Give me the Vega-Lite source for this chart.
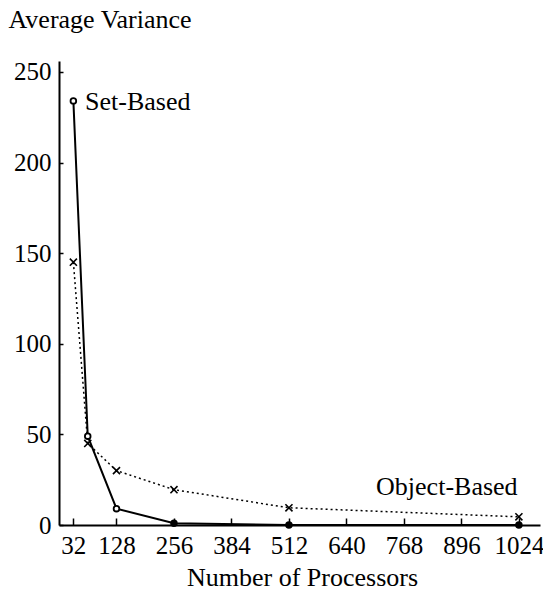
{
  "$schema": "https://vega.github.io/schema/vega-lite/v6.json",
  "autosize": "none",
  "width": 481,
  "height": 464,
  "padding": {"left": 59, "top": 61, "right": 3, "bottom": 66},
  "background": "white",
  "datasets": {
    "series": [
      {"p": 32, "v": 234, "s": "Set-Based"},
      {"p": 64, "v": 49, "s": "Set-Based"},
      {"p": 128, "v": 9, "s": "Set-Based"},
      {"p": 256, "v": 1, "s": "Set-Based"},
      {"p": 512, "v": 0, "s": "Set-Based"},
      {"p": 1024, "v": 0, "s": "Set-Based"},
      {"p": 32, "v": 145, "s": "Object-Based"},
      {"p": 64, "v": 45, "s": "Object-Based"},
      {"p": 128, "v": 30, "s": "Object-Based"},
      {"p": 256, "v": 19.5, "s": "Object-Based"},
      {"p": 512, "v": 9.5, "s": "Object-Based"},
      {"p": 1024, "v": 4.5, "s": "Object-Based"}
    ],
    "labels": [
      {"p": 58, "v": 229, "label": "Set-Based"},
      {"p": 706, "v": 16.5, "label": "Object-Based"}
    ]
  },
  "config": {
    "view": {"stroke": null},
    "font": "Liberation Serif",
    "axis": {
      "grid": false,
      "domainColor": "black",
      "domainWidth": 2,
      "tickColor": "black",
      "tickWidth": 1.5,
      "labelColor": "black",
      "labelFont": "Liberation Serif",
      "labelFontSize": 25,
      "titleFont": "Liberation Serif",
      "titleFontSize": 26,
      "titleFontWeight": "normal",
      "titleColor": "black"
    }
  },
  "encoding": {
    "x": {
      "field": "p",
      "type": "quantitative",
      "scale": {"domain": [0, 1071], "nice": false, "zero": false},
      "axis": {
        "values": [32, 128, 256, 384, 512, 640, 768, 896, 1024],
        "format": "d",
        "title": "Number of Processors",
        "tickSize": -7,
        "labelPadding": 15,
        "labelFlush": false,
        "labelOverlap": false,
        "titleX": 243,
        "titleY": 60,
        "titleBaseline": "alphabetic",
        "titleAnchor": "middle"
      }
    },
    "y": {
      "field": "v",
      "type": "quantitative",
      "scale": {"domain": [0, 256], "nice": false},
      "axis": {
        "values": [0, 50, 100, 150, 200, 250],
        "format": "d",
        "title": "Average Variance",
        "titleAngle": 0,
        "titleAlign": "left",
        "titleBaseline": "alphabetic",
        "titleX": -51,
        "titleY": -34,
        "tickSize": -4,
        "labelPadding": 12,
        "labelFlush": false,
        "labelOverlap": false
      }
    }
  },
  "layer": [
    {
      "data": {"name": "series"},
      "transform": [{"filter": "datum.s === 'Object-Based'"}],
      "mark": {"type": "line", "color": "black", "strokeWidth": 1.5, "strokeDash": [2, 3]}
    },
    {
      "data": {"name": "series"},
      "transform": [{"filter": "datum.s === 'Object-Based'"}],
      "mark": {"type": "point", "shape": "M-1,-1L1,1M-1,1L1,-1", "filled": false, "stroke": "black", "strokeWidth": 1.6, "size": 50, "opacity": 1}
    },
    {
      "data": {"name": "series"},
      "transform": [{"filter": "datum.s === 'Set-Based'"}],
      "mark": {"type": "line", "color": "black", "strokeWidth": 2}
    },
    {
      "data": {"name": "series"},
      "transform": [{"filter": "datum.s === 'Set-Based'"}],
      "mark": {"type": "point", "shape": "circle", "filled": true, "stroke": "black", "strokeWidth": 1.8, "size": 32, "opacity": 1},
      "encoding": {
        "fill": {"condition": {"test": "datum.p >= 256", "value": "black"}, "value": "white"}
      }
    },
    {
      "data": {"name": "labels"},
      "mark": {"type": "text", "font": "Liberation Serif", "fontSize": 26, "color": "black", "align": "left", "baseline": "alphabetic"},
      "encoding": {
        "text": {"field": "label"}
      }
    }
  ]
}
